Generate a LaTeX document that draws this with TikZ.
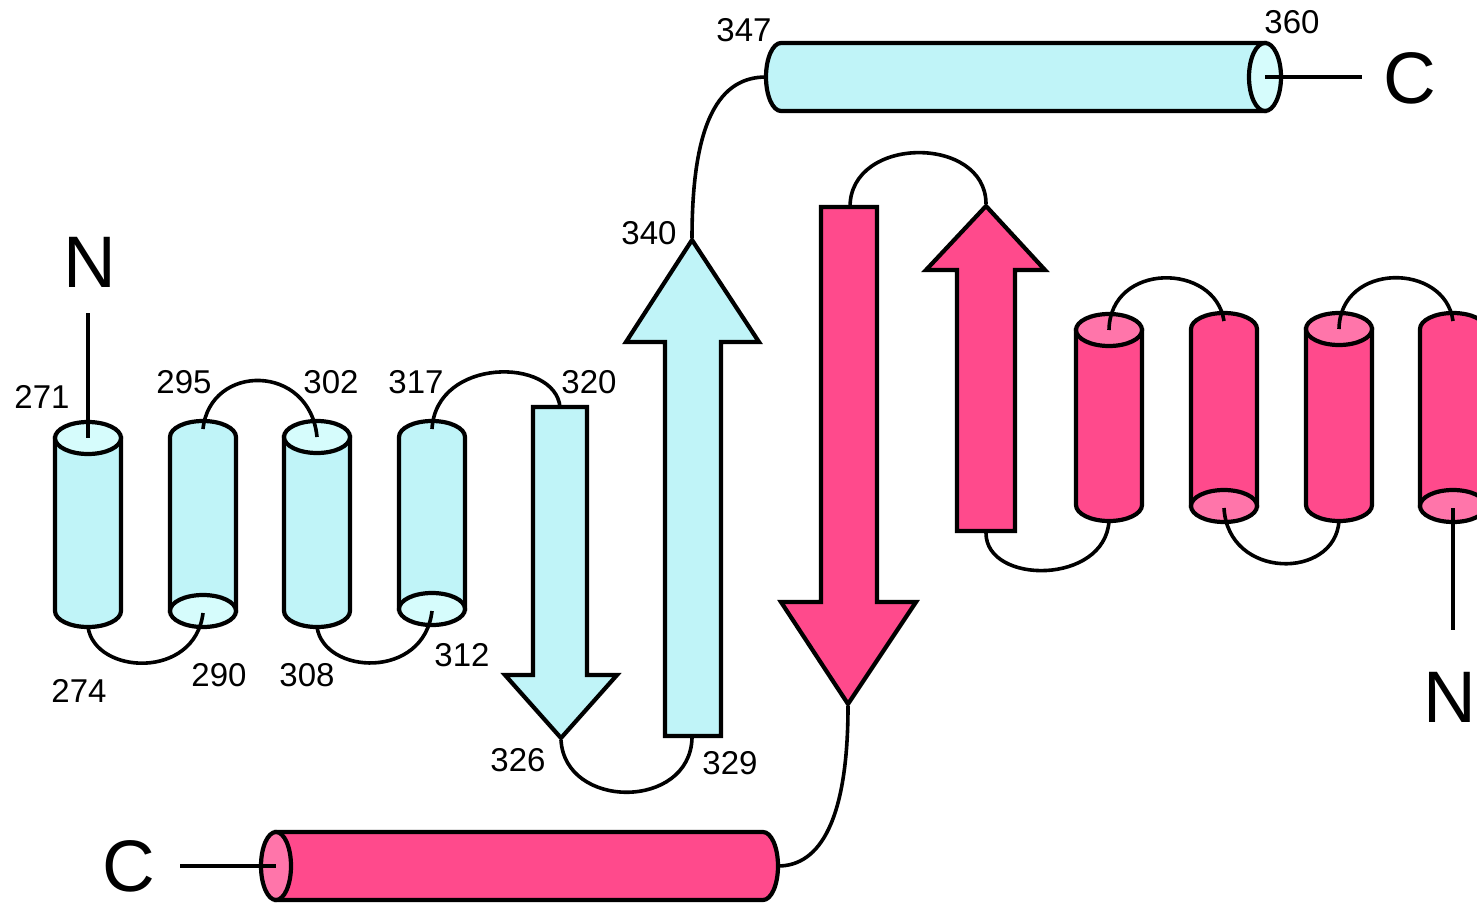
\documentclass[tikz,border=0pt]{standalone}
\usepackage{fontspec}
\setmainfont{Liberation Sans}
\definecolor{cyanbody}{RGB}{192,244,248}
\definecolor{cyancap}{RGB}{214,252,252}
\definecolor{pinkbody}{RGB}{255,74,140}
\definecolor{pinkcap}{RGB}{255,117,170}

% vertical helix with its top end cap visible: name, x, y of top centre, y of bottom centre, colour family
\newcommand\HelixCapTop[5]{%
  \draw[sse,fill=#5body] (#2-33,#3) -- (#2-33,#4)
    arc[start angle=180,end angle=0,x radius=33,y radius=16] -- (#2+33,#3) -- cycle;
  \draw[sse,fill=#5cap] (#2,#3) ellipse[x radius=33,y radius=16];
  \coordinate (#1-t) at (#2,#3);
  \coordinate (#1-b) at (#2,#4+16);
}
% vertical helix with its bottom end cap visible
\newcommand\HelixCapBot[5]{%
  \draw[sse,fill=#5body] (#2-33,#4) -- (#2-33,#3)
    arc[start angle=180,end angle=360,x radius=33,y radius=16] -- (#2+33,#4) -- cycle;
  \draw[sse,fill=#5cap] (#2,#4) ellipse[x radius=33,y radius=16];
  \coordinate (#1-t) at (#2,#3-8);
  \coordinate (#1-b) at (#2,#4+2);
}

\begin{document}
\begin{tikzpicture}[x=1pt,y=-1pt,
  sse/.style={draw=black,line width=4.2pt,line join=miter},
  coilline/.style={draw=black,line width=3.6pt},
  resnum/.style={font=\fontsize{33}{36}\selectfont,inner sep=0pt},
  termlabel/.style={font=\fontsize{73}{80}\selectfont,inner sep=0pt}]
\useasboundingbox (0,0) rectangle (1477,904);
\clip (0,0) rectangle (1477,904);

% helices of the first chain
\HelixCapTop{h1}{88}{438}{611}{cyan}
\HelixCapBot{h2}{203}{437}{611}{cyan}
\HelixCapTop{h3}{317}{437}{611}{cyan}
\HelixCapBot{h4}{432}{437}{609}{cyan}

% helices of the second chain
\HelixCapTop{p1}{1109}{330}{505}{pink}
\HelixCapBot{p2}{1224}{329}{506}{pink}
\HelixCapTop{p3}{1339}{329}{505}{pink}
\HelixCapBot{p4}{1453}{329}{506}{pink}

% beta strands
\draw[sse,fill=cyanbody] (533,407) -- (587,407) -- (587,675) -- (617,675) -- (561,738)
  -- (505,675) -- (533,675) -- cycle;
\coordinate (s1-top) at (560,407);
\coordinate (s1-tip) at (561,740);

\draw[sse,fill=cyanbody] (665,736) -- (721,736) -- (721,342) -- (759,342) -- (692,240)
  -- (626,342) -- (665,342) -- cycle;
\coordinate (s2-bot) at (692,738);
\coordinate (s2-tip) at (692,238);

\draw[sse,fill=pinkbody] (821,207) -- (877,207) -- (877,602) -- (916,602) -- (848,704)
  -- (781,602) -- (821,602) -- cycle;
\coordinate (s3-top) at (850,207);
\coordinate (s3-tip) at (848,706);

\draw[sse,fill=pinkbody] (957,531) -- (1015,531) -- (1015,270) -- (1045,270) -- (986,206)
  -- (926,270) -- (957,270) -- cycle;
\coordinate (s4-tip) at (986,204);
\coordinate (s4-bot) at (986,533);

% horizontal C-terminal helices
\draw[sse,fill=cyanbody] (1265,43) -- (781,43)
  arc[start angle=270,end angle=90,x radius=15,y radius=34] -- (1265,111) -- cycle;
\draw[sse,fill=cyancap] (1265,77) ellipse[x radius=16,y radius=34];
\coordinate (ct-left) at (766,77);
\coordinate (ct-cap) at (1265,77);

\draw[sse,fill=pinkbody] (276,832) -- (763,832)
  arc[start angle=270,end angle=450,x radius=15,y radius=34] -- (276,900) -- cycle;
\draw[sse,fill=pinkcap] (276,866) ellipse[x radius=15,y radius=34];
\coordinate (cb-right) at (778,866);
\coordinate (cb-cap) at (276,866);

% chain termini
\node[termlabel] (nL) at (90,262) {N};
\node[termlabel] (cT) at (1410,78) {C};
\node[termlabel] (nR) at (1450,697) {N};
\node[termlabel] (cB) at (129,866) {C};
\coordinate (nL-end) at (88,313);
\coordinate (cT-end) at (1362,77);
\coordinate (nR-end) at (1453,630);
\coordinate (cB-end) at (180,866);

% connecting loops
\draw[coilline] (nL-end) -- (h1-t);
\draw[coilline] (h1-b) .. controls (95,675) and (195,680) .. (h2-b);
\draw[coilline] (h2-t) .. controls (210,363) and (310,363) .. (h3-t);
\draw[coilline] (h3-b) .. controls (324,675) and (424,680) .. (h4-b);
\draw[coilline] (h4-t) .. controls (436,357) and (555,357) .. (s1-top);
\draw[coilline] (s1-tip) .. controls (565,810) and (690,810) .. (s2-bot);
\draw[coilline] (s2-tip) .. controls (692,120) and (720,77) .. (ct-left);
\draw[coilline] (ct-cap) -- (cT-end);

\draw[coilline] (cB-end) -- (cb-cap);
\draw[coilline] (cb-right) .. controls (820,866) and (848,820) .. (s3-tip);
\draw[coilline] (s3-top) .. controls (850,135) and (986,135) .. (s4-tip);
\draw[coilline] (s4-bot) .. controls (986,585) and (1105,585) .. (p1-b);
\draw[coilline] (p1-t) .. controls (1110,262) and (1215,262) .. (p2-t);
\draw[coilline] (p2-b) .. controls (1228,580) and (1335,580) .. (p3-b);
\draw[coilline] (p3-t) .. controls (1340,262) and (1445,262) .. (p4-t);
\draw[coilline] (p4-b) -- (nR-end);

% residue numbers
\node[resnum] (r271) at (42,397) {271};
\node[resnum] (r274) at (79,691) {274};
\node[resnum] (r290) at (219,675) {290};
\node[resnum] (r295) at (184,382) {295};
\node[resnum] (r302) at (331,382) {302};
\node[resnum] (r308) at (307,675) {308};
\node[resnum] (r312) at (462,655) {312};
\node[resnum] (r317) at (416,382) {317};
\node[resnum] (r320) at (589,382) {320};
\node[resnum] (r326) at (518,760) {326};
\node[resnum] (r329) at (730,763) {329};
\node[resnum] (r340) at (649,233) {340};
\node[resnum] (r347) at (744,30) {347};
\node[resnum] (r360) at (1292,22) {360};
\end{tikzpicture}
\end{document}
